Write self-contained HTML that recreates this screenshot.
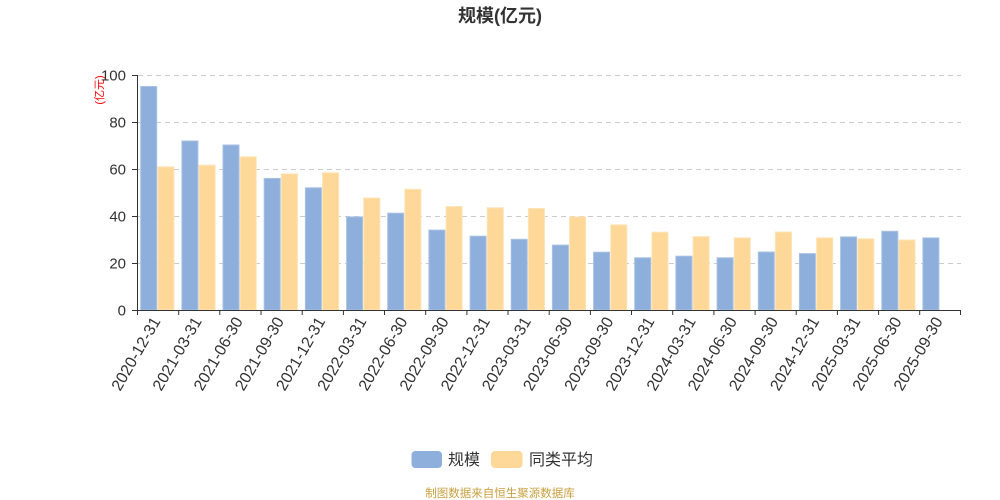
<!DOCTYPE html>
<html><head><meta charset="utf-8"><style>
html,body{margin:0;padding:0;background:#fff;}
svg{display:block;}
text{font-family:"Liberation Sans","Noto Sans CJK SC",sans-serif;}
</style></head><body>
<svg width="1000" height="500" viewBox="0 0 1000 500" xmlns="http://www.w3.org/2000/svg">
<text x="500" y="22" text-anchor="middle" font-size="18" font-weight="bold" fill="#333">规模(亿元)</text>
<text transform="translate(103,90) rotate(-90)" text-anchor="middle" font-size="11" fill="#ff0000">(亿元)</text>
<g stroke="#cccccc" stroke-width="1" stroke-dasharray="5,4">
<line x1="138" y1="75.5" x2="961" y2="75.5"/>
<line x1="138" y1="122.5" x2="961" y2="122.5"/>
<line x1="138" y1="169.5" x2="961" y2="169.5"/>
<line x1="138" y1="216.5" x2="961" y2="216.5"/>
<line x1="138" y1="263.5" x2="961" y2="263.5"/>
</g>
<g font-size="15" fill="#333" text-anchor="end">
<text x="126" y="80.5">100</text>
<text x="126" y="127.5">80</text>
<text x="126" y="174.5">60</text>
<text x="126" y="221.5">40</text>
<text x="126" y="268.5">20</text>
<text x="126" y="315.5">0</text>
</g>
<g fill="#8eaedb" stroke="#a9c1e4" stroke-width="1">
<rect x="140.7" y="86.5" width="16" height="223.5"/>
<rect x="181.9" y="141.0" width="16" height="169.0"/>
<rect x="223.0" y="145.0" width="16" height="165.0"/>
<rect x="264.2" y="178.4" width="16" height="131.6"/>
<rect x="305.4" y="187.8" width="16" height="122.2"/>
<rect x="346.6" y="216.9" width="16" height="93.1"/>
<rect x="387.7" y="213.2" width="16" height="96.8"/>
<rect x="428.9" y="230.1" width="16" height="79.9"/>
<rect x="470.1" y="236.2" width="16" height="73.8"/>
<rect x="511.2" y="239.3" width="16" height="70.7"/>
<rect x="552.4" y="245.1" width="16" height="64.9"/>
<rect x="593.6" y="252.2" width="16" height="57.8"/>
<rect x="634.7" y="257.8" width="16" height="52.2"/>
<rect x="675.9" y="256.2" width="16" height="53.8"/>
<rect x="717.1" y="257.8" width="16" height="52.2"/>
<rect x="758.3" y="252.0" width="16" height="58.0"/>
<rect x="799.4" y="253.6" width="16" height="56.4"/>
<rect x="840.6" y="236.9" width="16" height="73.1"/>
<rect x="881.8" y="231.3" width="16" height="78.7"/>
<rect x="922.9" y="237.9" width="16" height="72.1"/>
</g>
<g fill="#fed899" stroke="#fee3b4" stroke-width="1">
<rect x="157.9" y="166.9" width="16" height="143.1"/>
<rect x="199.1" y="165.2" width="16" height="144.8"/>
<rect x="240.2" y="156.8" width="16" height="153.2"/>
<rect x="281.4" y="173.9" width="16" height="136.1"/>
<rect x="322.6" y="172.8" width="16" height="137.2"/>
<rect x="363.8" y="198.1" width="16" height="111.9"/>
<rect x="404.9" y="189.4" width="16" height="120.6"/>
<rect x="446.1" y="206.6" width="16" height="103.4"/>
<rect x="487.3" y="207.8" width="16" height="102.2"/>
<rect x="528.4" y="208.5" width="16" height="101.5"/>
<rect x="569.6" y="216.9" width="16" height="93.1"/>
<rect x="610.8" y="224.9" width="16" height="85.1"/>
<rect x="651.9" y="232.2" width="16" height="77.8"/>
<rect x="693.1" y="236.7" width="16" height="73.3"/>
<rect x="734.3" y="237.9" width="16" height="72.1"/>
<rect x="775.5" y="232.0" width="16" height="78.0"/>
<rect x="816.6" y="237.9" width="16" height="72.1"/>
<rect x="857.8" y="238.8" width="16" height="71.2"/>
<rect x="899.0" y="240.0" width="16" height="70.0"/>
</g>
<g stroke="#333" stroke-width="1">
<line x1="137.5" y1="75" x2="137.5" y2="310"/>
<line x1="132" y1="75.5" x2="137.5" y2="75.5"/>
<line x1="132" y1="122.5" x2="137.5" y2="122.5"/>
<line x1="132" y1="169.5" x2="137.5" y2="169.5"/>
<line x1="132" y1="216.5" x2="137.5" y2="216.5"/>
<line x1="132" y1="263.5" x2="137.5" y2="263.5"/>
<line x1="132" y1="310.5" x2="137.5" y2="310.5"/>
<line x1="137" y1="310.5" x2="961" y2="310.5"/>
<line x1="137.5" y1="310" x2="137.5" y2="315"/>
<line x1="178.7" y1="310" x2="178.7" y2="315"/>
<line x1="219.8" y1="310" x2="219.8" y2="315"/>
<line x1="261.0" y1="310" x2="261.0" y2="315"/>
<line x1="302.2" y1="310" x2="302.2" y2="315"/>
<line x1="343.4" y1="310" x2="343.4" y2="315"/>
<line x1="384.5" y1="310" x2="384.5" y2="315"/>
<line x1="425.7" y1="310" x2="425.7" y2="315"/>
<line x1="466.9" y1="310" x2="466.9" y2="315"/>
<line x1="508.0" y1="310" x2="508.0" y2="315"/>
<line x1="549.2" y1="310" x2="549.2" y2="315"/>
<line x1="590.4" y1="310" x2="590.4" y2="315"/>
<line x1="631.5" y1="310" x2="631.5" y2="315"/>
<line x1="672.7" y1="310" x2="672.7" y2="315"/>
<line x1="713.9" y1="310" x2="713.9" y2="315"/>
<line x1="755.1" y1="310" x2="755.1" y2="315"/>
<line x1="796.2" y1="310" x2="796.2" y2="315"/>
<line x1="837.4" y1="310" x2="837.4" y2="315"/>
<line x1="878.6" y1="310" x2="878.6" y2="315"/>
<line x1="919.7" y1="310" x2="919.7" y2="315"/>
<line x1="960.5" y1="310" x2="960.5" y2="315"/>
</g>
<g font-size="16" fill="#333" text-anchor="end">
<text transform="translate(161,321) rotate(-60)">2020-12-31</text>
<text transform="translate(202.2,321) rotate(-60)">2021-03-31</text>
<text transform="translate(243.3,321) rotate(-60)">2021-06-30</text>
<text transform="translate(284.5,321) rotate(-60)">2021-09-30</text>
<text transform="translate(325.7,321) rotate(-60)">2021-12-31</text>
<text transform="translate(366.9,321) rotate(-60)">2022-03-31</text>
<text transform="translate(408.0,321) rotate(-60)">2022-06-30</text>
<text transform="translate(449.2,321) rotate(-60)">2022-09-30</text>
<text transform="translate(490.4,321) rotate(-60)">2022-12-31</text>
<text transform="translate(531.5,321) rotate(-60)">2023-03-31</text>
<text transform="translate(572.7,321) rotate(-60)">2023-06-30</text>
<text transform="translate(613.9,321) rotate(-60)">2023-09-30</text>
<text transform="translate(655.0,321) rotate(-60)">2023-12-31</text>
<text transform="translate(696.2,321) rotate(-60)">2024-03-31</text>
<text transform="translate(737.4,321) rotate(-60)">2024-06-30</text>
<text transform="translate(778.6,321) rotate(-60)">2024-09-30</text>
<text transform="translate(819.7,321) rotate(-60)">2024-12-31</text>
<text transform="translate(860.9,321) rotate(-60)">2025-03-31</text>
<text transform="translate(902.1,321) rotate(-60)">2025-06-30</text>
<text transform="translate(943.2,321) rotate(-60)">2025-09-30</text>
</g>
<rect x="411.5" y="451" width="30.5" height="17" rx="4" fill="#8eaedb"/>
<text x="448" y="465" font-size="16" fill="#333">规模</text>
<rect x="491" y="451" width="31.5" height="17" rx="4" fill="#fed899"/>
<text x="529" y="465" font-size="16" fill="#333">同类平均</text>
<text x="500" y="497" text-anchor="middle" font-size="11.5" fill="#c9a040">制图数据来自恒生聚源数据库</text>
</svg>
</body></html>
